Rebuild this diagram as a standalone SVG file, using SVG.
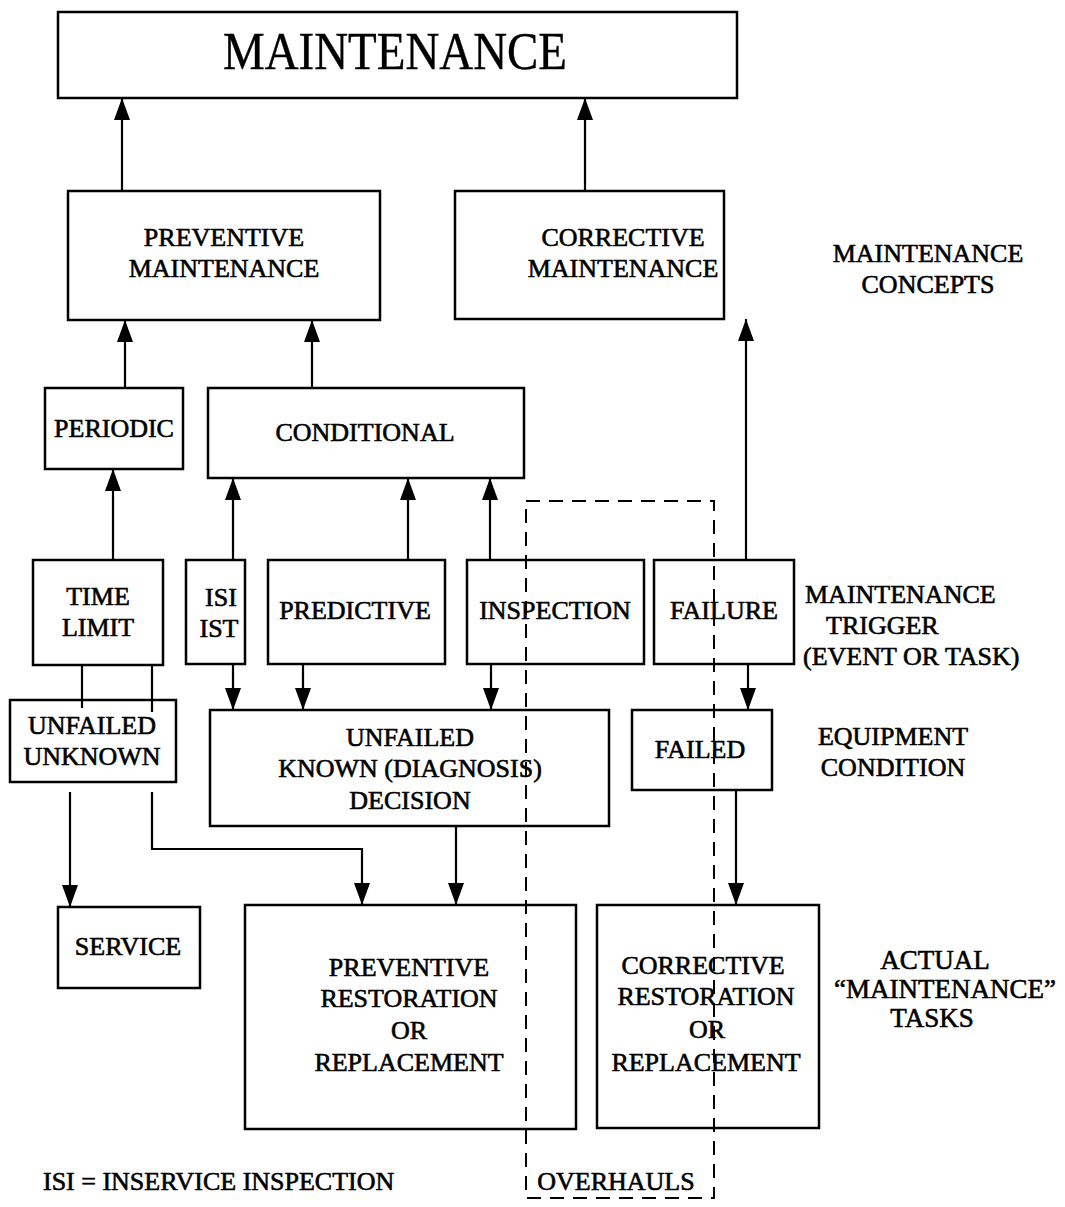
<svg xmlns="http://www.w3.org/2000/svg" width="1065" height="1207" viewBox="0 0 1065 1207">
<style>
.box{fill:#fff;stroke:#000;stroke-width:2.5}
.t{font-family:"Liberation Serif","Times New Roman",serif;font-size:26px;fill:#000;stroke:#000;stroke-width:0.6;text-anchor:middle}
.l{font-family:"Liberation Serif","Times New Roman",serif;font-size:26px;fill:#000;stroke:#000;stroke-width:0.6}
.c{fill:none;stroke:#000;stroke-width:2.2}
.d{fill:none;stroke:#000;stroke-width:2;stroke-dasharray:14 9}
</style>
<defs>
<marker id="ah" viewBox="0 0 22 16" refX="22" refY="8" markerWidth="22" markerHeight="16" markerUnits="userSpaceOnUse" orient="auto">
<path d="M0,0 L22,8 L0,16 z" fill="#000"/>
</marker>
</defs>
<rect width="1065" height="1207" fill="#fff"/>

<g id="maintenance"><rect class="box" x="58" y="12" width="679" height="86"/><text x="395" y="69" font-family="Liberation Serif, Times New Roman, serif" font-size="52" fill="#000" stroke="#000" stroke-width="0.4" text-anchor="middle" textLength="344" lengthAdjust="spacingAndGlyphs">MAINTENANCE</text></g>
<g id="pm"><rect class="box" x="68" y="191" width="312" height="129"/><text class="t" x="224" y="246">PREVENTIVE</text><text class="t" x="224" y="277">MAINTENANCE</text></g>
<g id="cm"><rect class="box" x="455" y="191" width="269" height="128"/><text class="t" x="623" y="246">CORRECTIVE</text><text class="t" x="623" y="277">MAINTENANCE</text></g>
<g id="lbl-concepts"><text class="t" x="928" y="262">MAINTENANCE</text><text class="t" x="928" y="293">CONCEPTS</text></g>
<g id="periodic"><rect class="box" x="45" y="388" width="138" height="81"/><text class="t" x="114" y="437">PERIODIC</text></g>
<g id="conditional"><rect class="box" x="208" y="388" width="316" height="90"/><text class="t" x="365" y="441">CONDITIONAL</text></g>
<g id="timelimit"><rect class="box" x="33" y="560" width="130" height="105"/><text class="t" x="98" y="605">TIME</text><text class="t" x="98" y="636">LIMIT</text></g>
<g id="isi"><rect class="box" x="186" y="560" width="59" height="104"/><text class="t" x="221" y="606">ISI</text><text class="t" x="219" y="637">IST</text></g>
<g id="predictive"><rect class="box" x="268" y="560" width="177" height="104"/><text class="t" x="355" y="619">PREDICTIVE</text></g>
<g id="inspection"><rect class="box" x="467" y="560" width="177" height="104"/><text class="t" x="555" y="619">INSPECTION</text></g>
<g id="failure"><rect class="box" x="654" y="560" width="140" height="104"/><text class="t" x="724" y="619">FAILURE</text></g>
<g id="lbl-trigger"><text class="l" x="805" y="603">MAINTENANCE</text><text class="l" x="826" y="634">TRIGGER</text><text class="l" x="803" y="665">(EVENT OR TASK)</text></g>
<g id="unfailed-unknown"><rect class="box" x="10" y="700" width="166" height="82"/><text class="t" x="92" y="734">UNFAILED</text><text class="t" x="92" y="765">UNKNOWN</text></g>
<g id="unfailed-known"><rect class="box" x="210" y="710" width="399" height="116"/><text class="t" x="410" y="746">UNFAILED</text><text class="t" x="410" y="777">KNOWN (DIAGNOSIS)</text><text class="t" x="410" y="809">DECISION</text></g>
<g id="failed"><rect class="box" x="632" y="710" width="140" height="80"/><text class="t" x="700" y="758">FAILED</text></g>
<g id="lbl-condition"><text class="t" x="893" y="745">EQUIPMENT</text><text class="t" x="893" y="776">CONDITION</text></g>
<g id="service"><rect class="box" x="58" y="907" width="142" height="81"/><text class="t" x="128" y="955">SERVICE</text></g>
<g id="prr"><rect class="box" x="245" y="905" width="331" height="224"/><text class="t" x="409" y="976">PREVENTIVE</text><text class="t" x="409" y="1007">RESTORATION</text><text class="t" x="409" y="1039">OR</text><text class="t" x="409" y="1071">REPLACEMENT</text></g>
<g id="crr"><rect class="box" x="597" y="905" width="222" height="223"/><text class="t" x="703" y="974">CORRECTIVE</text><text class="t" x="706" y="1005">RESTORATION</text><text class="t" x="707" y="1038">OR</text><text class="t" x="706" y="1071">REPLACEMENT</text></g>
<g id="lbl-tasks"><text class="t" x="935" y="969" style="font-size:27px">ACTUAL</text><text class="t" x="945" y="998" style="font-size:27px">“MAINTENANCE”</text><text class="t" x="932" y="1027" style="font-size:27px">TASKS</text></g>
<g id="overhauls"><rect class="d" x="526" y="501" width="188" height="697"/><text class="t" x="616" y="1190">OVERHAULS</text></g>
<g id="legend"><text class="l" x="43" y="1190">ISI = INSERVICE INSPECTION</text></g>

<g id="connectors">
<line class="c" x1="122" y1="191" x2="122" y2="98" marker-end="url(#ah)"/>
<line class="c" x1="585" y1="191" x2="585" y2="98" marker-end="url(#ah)"/>
<line class="c" x1="125" y1="388" x2="125" y2="320" marker-end="url(#ah)"/>
<line class="c" x1="312" y1="388" x2="312" y2="320" marker-end="url(#ah)"/>
<line class="c" x1="746" y1="560" x2="746" y2="319" marker-end="url(#ah)"/>
<line class="c" x1="113" y1="560" x2="113" y2="469" marker-end="url(#ah)"/>
<line class="c" x1="233" y1="560" x2="233" y2="478" marker-end="url(#ah)"/>
<line class="c" x1="408" y1="560" x2="408" y2="478" marker-end="url(#ah)"/>
<line class="c" x1="490" y1="560" x2="490" y2="478" marker-end="url(#ah)"/>
<line class="c" x1="82" y1="665" x2="82" y2="708"/>
<line class="c" x1="152" y1="665" x2="152" y2="712"/>
<line class="c" x1="233" y1="664" x2="233" y2="710" marker-end="url(#ah)"/>
<line class="c" x1="303" y1="664" x2="303" y2="710" marker-end="url(#ah)"/>
<line class="c" x1="491" y1="664" x2="491" y2="710" marker-end="url(#ah)"/>
<line class="c" x1="748" y1="664" x2="748" y2="710" marker-end="url(#ah)"/>
<line class="c" x1="70" y1="792" x2="70" y2="907" marker-end="url(#ah)"/>
<polyline class="c" points="152,792 152,849 362,849 362,905" marker-end="url(#ah)"/>
<line class="c" x1="456" y1="826" x2="456" y2="905" marker-end="url(#ah)"/>
<line class="c" x1="736" y1="790" x2="736" y2="905" marker-end="url(#ah)"/>
</g>
</svg>
